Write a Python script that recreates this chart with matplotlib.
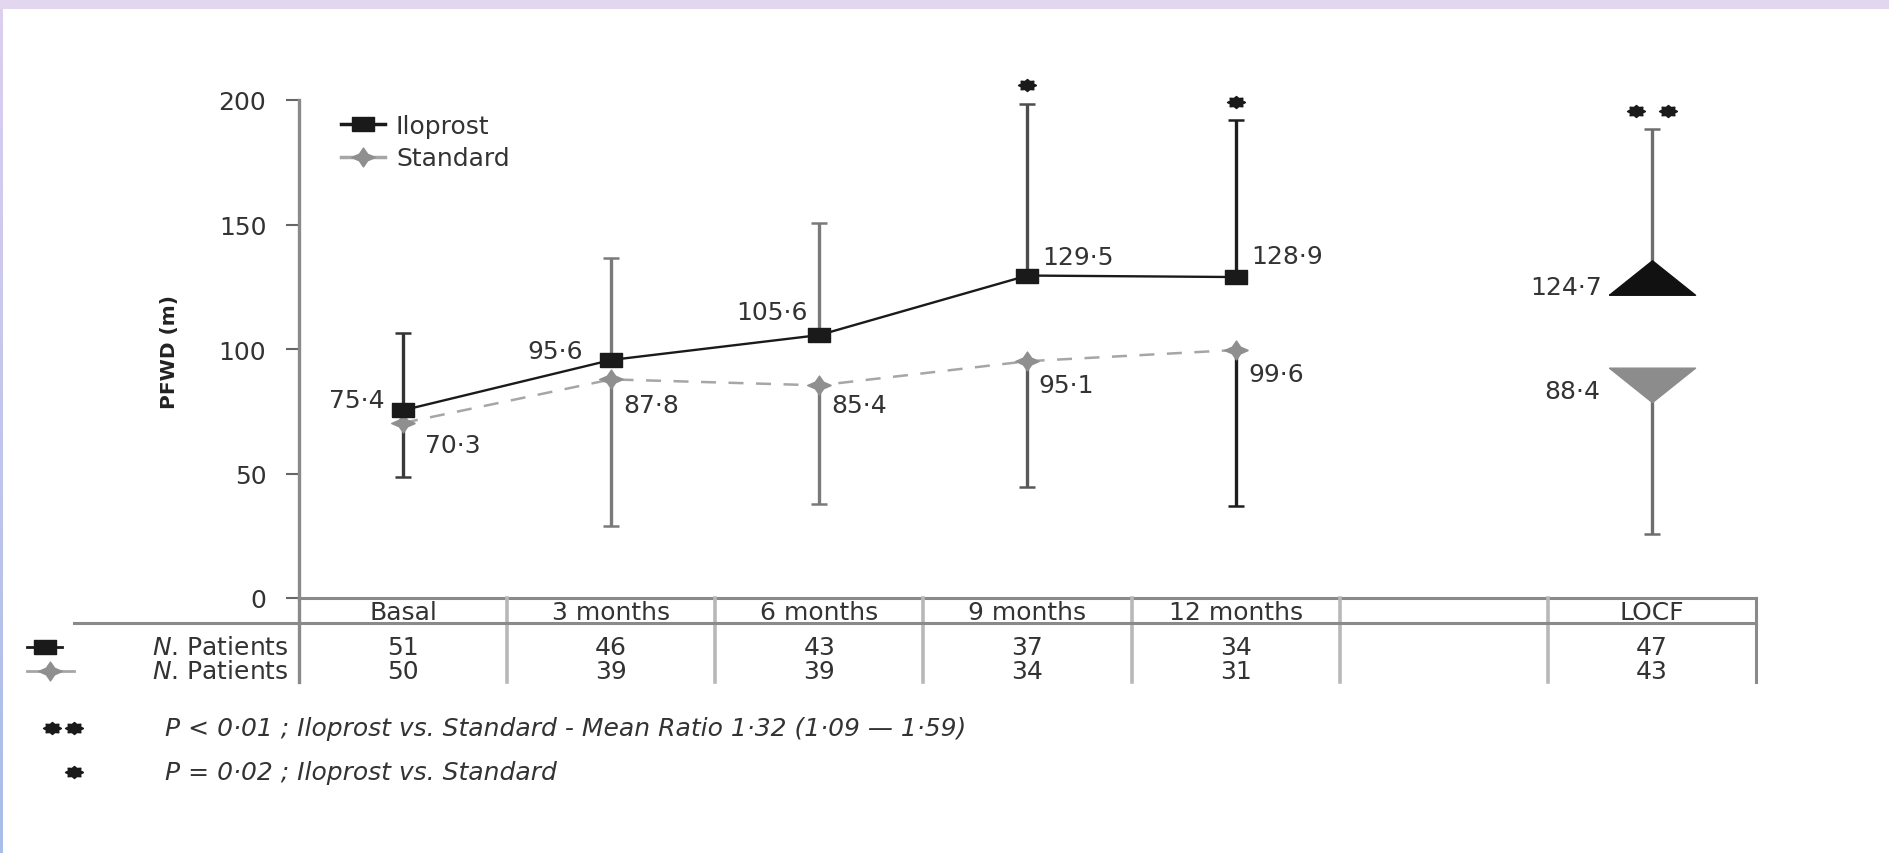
import numpy as np
import matplotlib
matplotlib.use("Agg")
import matplotlib.pyplot as plt
from matplotlib.lines import Line2D
from matplotlib.patches import Rectangle
from matplotlib.colors import LinearSegmentedColormap
import matplotlib.transforms as mtransforms

plt.rcParams['font.family'] = ['DejaVu Sans']
plt.rcParams['mathtext.fontset'] = 'dejavusans'

# ---------------- data ----------------
timepoints = ["Basal", "3 months", "6 months", "9 months", "12 months"]
locf_label = "LOCF"
iloprost_mean = [75.4, 95.6, 105.6, 129.5, 128.9]
standard_mean = [70.3, 87.8, 85.4, 95.1, 99.6]
iloprost_upper = [106.5, 136.6, 150.6, 198.5, 191.8]
standard_lower = [48.4, 29.0, 37.8, 44.6, 36.8]
iloprost_locf = 124.7
standard_locf = 88.4
iloprost_locf_upper = 188.4
standard_locf_lower = 25.7
n_iloprost = [51, 46, 43, 37, 34]
n_standard = [50, 39, 39, 34, 31]
n_iloprost_locf = 47
n_standard_locf = 43
star_timepoints = [3, 4]          # indices with "*"
yticks = [0, 50, 100, 150, 200]
footnote_1 = "P < 0·01 ; Iloprost vs. Standard - Mean Ratio 1·32 (1·09 — 1·59)"
footnote_2 = "P = 0·02 ; Iloprost vs. Standard"


def fmt(v):
    return f"{v:.1f}".replace(".", "·")


FS = 18
TXT = "#333333"

# ---------------- figure geometry ----------------
W, H = 1890, 854
fig = plt.figure(figsize=(W / 100, H / 100), dpi=100)
fig.patch.set_facecolor("white")


def fx(px):
    return px / W


def fy(py):
    return 1 - py / H


# page border decoration
fig.patches.append(Rectangle((0, fy(10)), 1, 10 / H, transform=fig.transFigure,
                             facecolor="#e3d7f0", edgecolor="none", zorder=0))
gax = fig.add_axes([0, 0, 3 / W, fy(10)])
grad = np.linspace(0, 1, 256)[:, None]
cmap = LinearSegmentedColormap.from_list("edge", ["#dccff0", "#a8bde9"])
gax.imshow(grad, aspect="auto", cmap=cmap)
gax.axis("off")

ax = fig.add_axes([fx(299), fy(599), (1756 - 299) / W, (599 - 101) / H])
ax.set_xlim(-0.5, 6.5)
ax.set_ylim(0, 200)
for s in ["top", "right", "bottom"]:
    ax.spines[s].set_visible(False)
ax.spines["left"].set_color("#8a8a8a")
ax.spines["left"].set_linewidth(2.4)
ax.set_xticks([])
ax.set_yticks(yticks)
ax.set_yticklabels([str(t) for t in yticks])
ax.tick_params(axis="y", length=9.5, width=1.5, color="#666666",
               labelsize=FS, labelcolor=TXT, pad=14)

fig.text(fx(169), fy(352), "PFWD (m)", rotation=90, ha="center", va="center",
         fontsize=14.5, fontweight="bold", color="#222222")

x = np.arange(len(timepoints))
x_locf = 6

# marker shapes (the source image is horizontally stretched)
rect_marker = [(-1, -0.6), (1, -0.6), (1, 0.6), (-1, 0.6), (-1, -0.6)]
ang = np.linspace(0, 2 * np.pi, 9)[:-1]
star4 = []
for k, a in enumerate(ang):
    r = 1.0 if k % 2 == 0 else 0.5
    star4.append((r * np.cos(a), 0.8 * r * np.sin(a)))
star4.append(star4[0])
ang8 = np.linspace(0, 2 * np.pi, 17)[:-1]
blob = []
for k, a in enumerate(ang8):
    r = 1.0 if k % 2 == 0 else 0.72
    blob.append((1.5 * r * np.cos(a), r * np.sin(a)))
blob.append(blob[0])
tri_up = [(-1, -0.18), (1, -0.18), (0, 0.62), (-1, -0.18)]
tri_down = [(-1, 0.24), (1, 0.24), (0, -0.56), (-1, 0.24)]

ilo_color = "#1a1a1a"
std_color = "#8f8f8f"
std_line_color = "#a6a6a6"

# error bar colours per time point (as in the scan)
ilo_err_colors = ["#333333", "#7a7a7a", "#7a7a7a", "#4d4d4d", "#1e1e1e"]
std_err_colors = ["#3a3a3a", "#7a7a7a", "#7a7a7a", "#5a5a5a", "#1e1e1e"]

for i in range(len(timepoints)):
    ax.errorbar([x[i]], [iloprost_mean[i]],
                yerr=[[0], [iloprost_upper[i] - iloprost_mean[i]]],
                fmt="none", ecolor=ilo_err_colors[i], elinewidth=2.4,
                capsize=5.5, capthick=1.8, zorder=2, clip_on=False)
    ax.errorbar([x[i]], [standard_mean[i]],
                yerr=[[standard_mean[i] - standard_lower[i]], [0]],
                fmt="none", ecolor=std_err_colors[i], elinewidth=2.4,
                capsize=5.5, capthick=1.8, zorder=2, clip_on=False)

ax.errorbar([x_locf], [iloprost_locf], yerr=[[0], [iloprost_locf_upper - iloprost_locf]],
            fmt="none", ecolor="#6e6e6e", elinewidth=2.4, capsize=5.5, capthick=1.8,
            zorder=2, clip_on=False)
ax.errorbar([x_locf], [standard_locf], yerr=[[standard_locf - standard_locf_lower], [0]],
            fmt="none", ecolor="#6e6e6e", elinewidth=2.4, capsize=5.5, capthick=1.8,
            zorder=2, clip_on=False)

ax.plot(x, standard_mean, color=std_line_color, lw=1.8, dashes=(6, 5),
        marker=star4, ms=17, mfc=std_color, mec=std_color, zorder=3)
ax.plot(x, iloprost_mean, color=ilo_color, lw=1.7,
        marker=rect_marker, ms=16, mfc=ilo_color, mec=ilo_color, zorder=4)

ax.plot([x_locf], [iloprost_locf], ls="none", marker=tri_up, ms=62,
        mfc="#111111", mec="#111111", zorder=5)
ax.plot([x_locf], [standard_locf], ls="none", marker=tri_down, ms=62,
        mfc="#8c8c8c", mec="#8c8c8c", zorder=5)

# significance stars
for i in star_timepoints:
    ax.plot([x[i]], [iloprost_upper[i] + 7.5], ls="none", marker=blob, ms=13,
            color="#1a1a1a", clip_on=False, zorder=6)
for dx in (-0.075, 0.075):
    ax.plot([x_locf + dx], [iloprost_locf_upper + 7.0], ls="none", marker=blob,
            ms=13, color="#1a1a1a", clip_on=False, zorder=6)

# value labels (offsets in pixels)
ilo_offsets = [(-18, 10, "right"), (-28, 9, "right"), (-12, 23, "right"),
               (15, 19, "left"), (16, 21, "left")]
std_offsets = [(22, -22, "left"), (12, -26, "left"), (12, -20, "left"),
               (11, -24, "left"), (13, -24, "left")]
for i in range(len(timepoints)):
    dx, dy, ha = ilo_offsets[i]
    ax.annotate(fmt(iloprost_mean[i]), (x[i], iloprost_mean[i]), xytext=(dx, dy),
                textcoords="offset pixels", ha=ha, va="center", fontsize=FS,
                color=TXT, zorder=7)
    dx, dy, ha = std_offsets[i]
    ax.annotate(fmt(standard_mean[i]), (x[i], standard_mean[i]), xytext=(dx, dy),
                textcoords="offset pixels", ha=ha, va="center", fontsize=FS,
                color=TXT, zorder=7)
ax.annotate(fmt(iloprost_locf), (x_locf, iloprost_locf), xytext=(-50, 0),
            textcoords="offset pixels", ha="right", va="center", fontsize=FS,
            color=TXT)
ax.annotate(fmt(standard_locf), (x_locf, standard_locf), xytext=(-52, -13),
            textcoords="offset pixels", ha="right", va="center", fontsize=FS,
            color=TXT)

# legend
leg_handles = [
    Line2D([], [], color=ilo_color, lw=2.5, marker=rect_marker, ms=16,
           mfc=ilo_color, mec=ilo_color),
    Line2D([], [], color=std_line_color, lw=2.5, marker=star4, ms=17,
           mfc=std_color, mec=std_color),
]
ax.legend(leg_handles, ["Iloprost", "Standard"], loc="upper left",
          bbox_to_anchor=((341 - 299) / 1457, (599 - 115) / 498), frameon=False,
          fontsize=FS, handlelength=1.75, handletextpad=0.45, borderpad=0,
          borderaxespad=0, labelspacing=0.33, labelcolor=TXT)

# ---------------- table ----------------
tb = mtransforms.blended_transform_factory(ax.transData, fig.transFigure)
grid_col = "#8a8a8a"
sep_col = "#b8b8b8"
ax.plot([-0.5, 6.5], [0, 0], color=grid_col, lw=2.2, clip_on=False, zorder=1)
fig.add_artist(Line2D([fx(74), fx(1756)], [fy(624), fy(624)], color=grid_col, lw=2.2))
fig.add_artist(Line2D([fx(299), fx(299)], [fy(599), fy(683)], color=grid_col, lw=2.4))
for b in np.arange(0.5, 6.0, 1.0):
    ax.plot([b, b], [fy(599), fy(683)], transform=tb, color=sep_col, lw=2.6,
            clip_on=False)
ax.plot([6.5, 6.5], [fy(599), fy(683)], transform=tb, color=grid_col, lw=2.2,
        clip_on=False)

table_cols = list(timepoints) + [locf_label]
table_x = list(x) + [x_locf]
row1 = list(n_iloprost) + [n_iloprost_locf]
row2 = list(n_standard) + [n_standard_locf]
for xi, lab, a, b in zip(table_x, table_cols, row1, row2):
    ax.text(xi, fy(613), lab, transform=tb, ha="center", va="center",
            fontsize=FS, color=TXT)
    ax.text(xi, fy(648), str(a), transform=tb, ha="center", va="center",
            fontsize=FS, color=TXT)
    ax.text(xi, fy(672), str(b), transform=tb, ha="center", va="center",
            fontsize=FS, color=TXT)

for yy in (648, 672):
    fig.text(fx(289), fy(yy), r"$\mathit{N}$. Patients", ha="right", va="center",
             fontsize=FS, color=TXT)
fig.add_artist(Line2D([fx(27), fx(62)], [fy(648), fy(648)], color=ilo_color, lw=2))
fig.add_artist(Line2D([fx(45)], [fy(648)], ls="none", marker=rect_marker, ms=16,
                      mfc=ilo_color, mec=ilo_color))
fig.add_artist(Line2D([fx(27), fx(74)], [fy(672), fy(672)], color=std_line_color, lw=2))
fig.add_artist(Line2D([fx(50)], [fy(672)], ls="none", marker=star4, ms=17,
                      mfc=std_color, mec=std_color))

# ---------------- footnotes ----------------
for sx, sy in [(52, 729), (74, 729), (74, 773)]:
    fig.add_artist(Line2D([fx(sx)], [fy(sy)], ls="none", marker=blob, ms=13,
                          color="#1a1a1a"))
fig.text(fx(165), fy(729), footnote_1, ha="left", va="center", fontsize=FS,
         style="italic", color=TXT)
fig.text(fx(165), fy(773), footnote_2, ha="left", va="center", fontsize=FS,
         style="italic", color=TXT)

fig.savefig("out.png", dpi=100, facecolor="white")
